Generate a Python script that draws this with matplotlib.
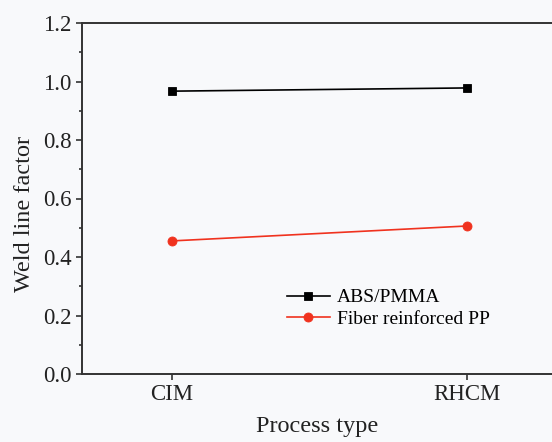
import matplotlib
matplotlib.use("Agg")
import matplotlib.pyplot as plt

categories = ["CIM", "RHCM"]
abs_pmma = [0.967, 0.978]
fiber_pp = [0.455, 0.506]

plt.rcParams['font.family'] = ['Liberation Serif', 'DejaVu Serif']

fig = plt.figure(figsize=(5.52, 4.42), dpi=100)
fig.patch.set_facecolor('#f8f9fb')
ax = fig.add_axes([82/552, 1 - 374/442, 1 - 82/552, 351/442])
ax.set_facecolor('#f8f9fb')

x = list(range(len(categories)))
ax.plot(x, abs_pmma, color='black', marker='s', markersize=6, markeredgewidth=0.6,
        linewidth=1.2, label='ABS/PMMA')
ax.plot(x, fiber_pp, color='#f0321e', marker='o', markersize=6.5, markeredgewidth=0.6,
        linewidth=1.2, label='Fiber reinforced PP')

ax.set_xlim(-0.305, 1.288)
ax.set_ylim(0, 1.2)
ax.set_xticks(x)
ax.set_xticklabels(categories)
ax.set_yticks([0, 0.2, 0.4, 0.6, 0.8, 1.0, 1.2])
ax.set_yticklabels(['0.0', '0.2', '0.4', '0.6', '0.8', '1.0', '1.2'])
ax.set_yticks([0.1, 0.3, 0.5, 0.7, 0.9, 1.1], minor=True)
ax.tick_params(axis='both', which='major', labelsize=16.5, length=4.5, width=1.2,
               direction='out', pad=3, colors='#333333', labelcolor='#222222')
ax.tick_params(axis='y', which='minor', length=2.5, width=1.2, direction='out', colors='#333333')
ax.spines['right'].set_visible(False)
for s in ['left', 'top', 'bottom']:
    ax.spines[s].set_linewidth(1.4)
    ax.spines[s].set_color('#333333')

ax.set_xlabel('Process type', fontsize=17.5, color='#222222')
ax.xaxis.set_label_coords(0.5, -0.12)
ax.set_ylabel('Weld line factor', fontsize=17.5, color='#222222')
ax.yaxis.set_label_coords(-0.099, 0.455)

ax.legend(loc='upper left', bbox_to_anchor=(0.403, 0.287), frameon=False, fontsize=14,
          handlelength=2.2, handletextpad=0.36, labelspacing=0.19, borderpad=0.3)

fig.savefig('out.png', dpi=100, facecolor=fig.get_facecolor())
